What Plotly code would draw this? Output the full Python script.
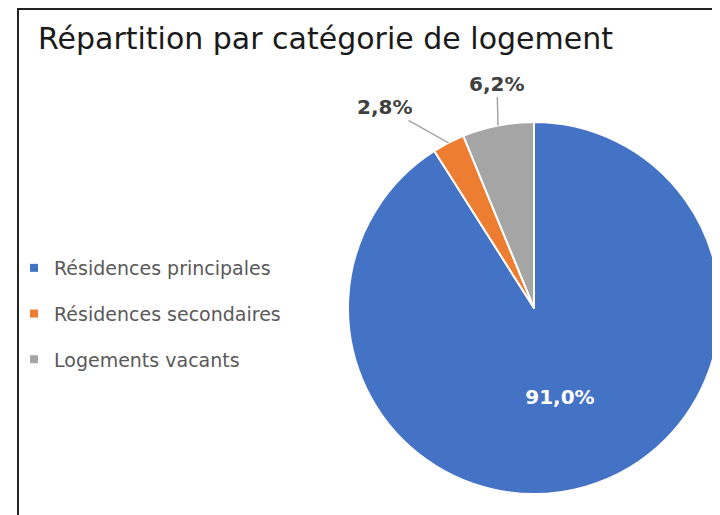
import math
import plotly.graph_objects as go

# %% data
categories = ['Résidences principales', 'Résidences secondaires', 'Logements vacants']
shares = [91.0, 2.8, 6.2]
slice_colors = ['#4472C4', '#ED7D31', '#A5A5A5']
title_text = 'Répartition par catégorie de logement'

# the page body has an 8px margin, so the figure is drawn a bit smaller and
# every position below is given in window pixels, then shifted
OFF = 8
W, H = 720 - OFF, 515 - OFF
font_name = 'DejaVu Sans'


def fx(px):
    return (px - OFF) / W


def fy(py):
    return 1 - (py - OFF) / H


# pie placement (window pixels)
cx, cy, r = 534, 308, 186
# offsets (px) of the outside labels from the slice edge
label_offsets = [None, (-64, -36), (-1, -42)]


def pct(v):
    return ('%.1f%%' % v).replace('.', ',')


# %% figure
fig = go.Figure()

fig.add_trace(go.Pie(
    labels=categories,
    values=shares,
    sort=False,
    direction='clockwise',
    rotation=0,
    marker=dict(colors=slice_colors, line=dict(color='white', width=2)),
    texttemplate=['%{percent:.1%}', '', ''],
    textposition='inside',
    insidetextorientation='horizontal',
    textfont=dict(family=font_name, size=20, color='white', weight='bold'),
    showlegend=False,
    hoverinfo='label+percent',
    domain=dict(x=[fx(cx - r), min(fx(cx + r), 1.0)], y=[fy(cy + r), fy(cy - r)]),
))

# outside labels with leader lines, placed at the middle of each small slice
total = sum(shares)
cum = 0
annotations = []
for v, off in zip(shares, label_offsets):
    mid = (cum + v / 2) / total * 2 * math.pi
    cum += v
    if off is None:
        continue
    px = cx + r * math.sin(mid)
    py = cy - r * math.cos(mid)
    annotations.append(dict(
        x=fx(px), y=fy(py), xref='paper', yref='paper',
        text='<b>%s</b>' % pct(v), showarrow=True, arrowhead=0,
        arrowcolor='#A6A6A6', arrowwidth=1.5, ax=off[0], ay=off[1], standoff=0,
        font=dict(family=font_name, size=20, color='#404040'),
    ))

# legend entries drawn as dummy markers so the gap between them can be set
for name, col in zip(categories, slice_colors):
    fig.add_trace(go.Scatter(
        x=[None], y=[None], mode='markers', name=name, legendgroup=name,
        marker=dict(symbol='square', size=8, color=col),
    ))

fig.update_layout(
    width=W, height=H,
    margin=dict(l=0, r=0, t=0, b=0),
    paper_bgcolor='white', plot_bgcolor='white',
    separators=', ',
    font=dict(family=font_name),
    xaxis=dict(visible=False), yaxis=dict(visible=False),
    title=dict(text=title_text, x=fx(38), xanchor='left', y=fy(38), yanchor='middle',
               font=dict(family=font_name, size=30, color='#1a1a1a')),
    legend=dict(x=fx(14), y=fy(249), xanchor='left', yanchor='top',
                font=dict(family=font_name, size=19, color='#595959'),
                itemwidth=30, tracegroupgap=18, itemclick=False, bgcolor='rgba(0,0,0,0)'),
    annotations=annotations,
    shapes=[dict(type='rect', xref='paper', yref='paper',
                 x0=fx(18), x1=1.05, y0=-0.05, y1=fy(9),
                 line=dict(color='#222222', width=2))],
)

fig.write_html('out.html')
